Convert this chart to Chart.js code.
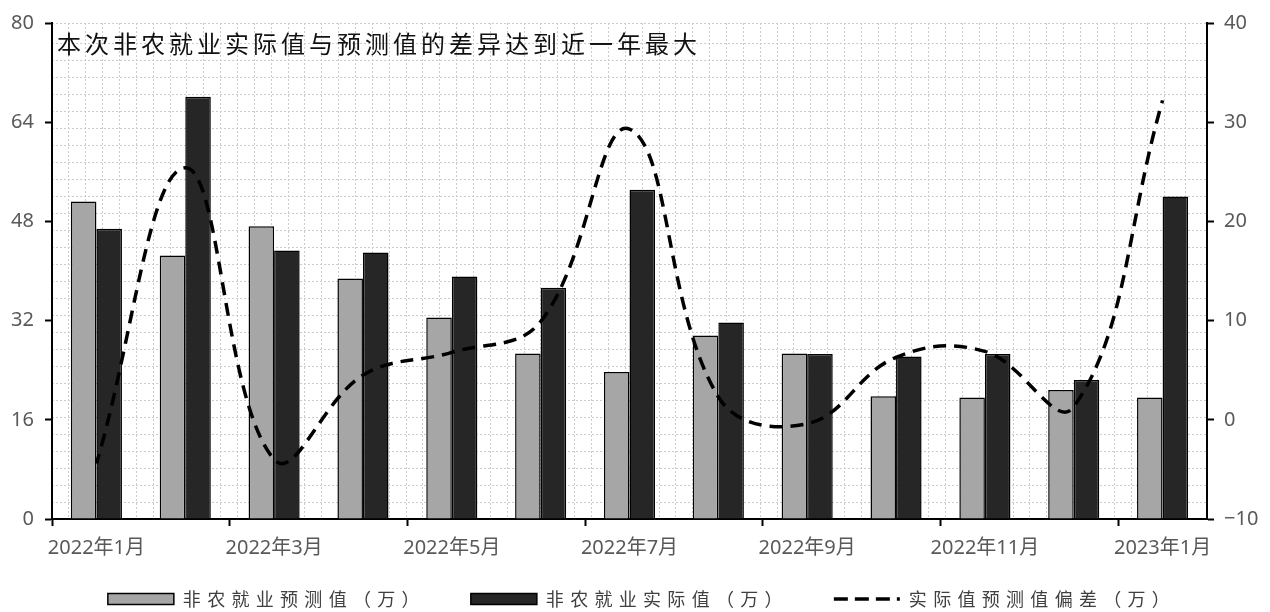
<!DOCTYPE html>
<html>
<head>
    <meta charset="utf-8">
    <title>非农就业实际值与预测值</title>
    <script src="https://cdn.jsdelivr.net/npm/chart.js"></script>
    <style>
        html, body { margin: 0; padding: 0; background: #fff; }
        #wrap { width: 1270px; height: 612px; }
    </style>
</head>
<body>
    <div id="wrap"><canvas id="nfpChart" width="1270" height="612"></canvas></div>

    <script>
        // monthly data, unit: 万
        const months = ['2022年1月', '2022年2月', '2022年3月', '2022年4月', '2022年5月', '2022年6月', '2022年7月',
                        '2022年8月', '2022年9月', '2022年10月', '2022年11月', '2022年12月', '2023年1月'];
        const forecast = [51.2, 42.5, 47.2, 38.8, 32.5, 26.7, 23.7, 29.6, 26.7, 19.8, 19.6, 20.8, 19.6];
        const actual = [46.8, 68.1, 43.3, 43.0, 39.1, 37.3, 53.1, 31.7, 26.6, 26.2, 26.6, 22.4, 52.0];
        const deviation = [-4.4, 25.4, -4.0, 4.5, 6.8, 9.9, 29.3, 2.3, -0.4, 6.3, 6.9, 1.3, 32.2];

        const leftTicks = [0, 16, 32, 48, 64, 80];
        const rightTicks = [-10, 0, 10, 20, 30, 40];

        const titleText = '本次非农就业实际值与预测值的差异达到近一年最大';
        const seriesNames = ['非农就业预测值（万）', '非农就业实际值（万）', '实际值预测值偏差（万）'];

        const tickColor = '#595959';
        const gridColor = '#cccccc';
        const sans = '"Noto Sans", "Noto Sans CJK SC", sans-serif';
        const cjk = '"Noto Sans CJK SC", sans-serif';

        Chart.defaults.font.family = sans;

        // headline written inside the plot area, top left
        const headline = {
            id: 'headline',
            afterDatasetsDraw(chart) {
                const { ctx, chartArea } = chart;
                ctx.save();
                ctx.letterSpacing = '4px';
                ctx.font = '24px ' + cjk;
                ctx.fillStyle = '#111';
                ctx.textBaseline = 'middle';
                ctx.fillText(titleText, chartArea.left + 5, chartArea.top + 21);
                ctx.restore();
            }
        };

        const fmtSigned = v => (v < 0 ? '\u2212' + Math.abs(v) : String(v));

        const chart = new Chart(document.getElementById('nfpChart'), {
            type: 'bar',
            data: {
                labels: months,
                datasets: [
                    {
                        label: seriesNames[2],
                        type: 'line',
                        data: deviation,
                        yAxisID: 'y1',
                        borderColor: '#000',
                        borderWidth: 3.5,
                        borderDash: [13, 8],
                        borderDashOffset: 3,
                        tension: 0.4,
                        pointRadius: 0,
                        fill: false,
                        order: 0
                    },
                    {
                        label: seriesNames[0],
                        data: forecast,
                        backgroundColor: '#a6a6a6',
                        borderColor: '#000',
                        borderWidth: 1.5,
                        order: 1
                    },
                    {
                        label: seriesNames[1],
                        data: actual,
                        backgroundColor: '#262626',
                        borderColor: '#000',
                        borderWidth: 1.5,
                        order: 1
                    }
                ]
            },
            options: {
                responsive: false,
                animation: false,
                datasets: {
                    bar: { categoryPercentage: 0.575, barPercentage: 1.0 }
                },
                // legend padding is large, so the bottom edge pulls it down a little
                layout: { padding: { top: 12, left: 0, right: 0, bottom: -6 } },
                plugins: {
                    tooltip: { enabled: false },
                    legend: {
                        position: 'bottom',
                        labels: {
                            font: { family: cjk, size: 18 },
                            color: '#404040',
                            usePointStyle: true,
                            pointStyleWidth: 66,
                            boxHeight: 11,
                            padding: 45,
                            // bars first, dashed line last
                            sort: (a, b) => (a.datasetIndex === 0) - (b.datasetIndex === 0) || a.datasetIndex - b.datasetIndex,
                            generateLabels(c) {
                                const items = Chart.defaults.plugins.legend.labels.generateLabels(c);
                                items.forEach(it => {
                                    it.pointStyle = it.datasetIndex === 0 ? 'line' : 'rect';
                                    if (it.datasetIndex === 0) {
                                        it.lineWidth = 3.5;
                                        it.lineDash = [14, 7];
                                    }
                                });
                                return items;
                            }
                        }
                    }
                },
                scales: {
                    x: {
                        type: 'category',
                        offset: true,
                        grid: {
                            offset: true,
                            drawOnChartArea: false,
                            tickLength: 7,
                            tickWidth: 2,
                            tickColor: ctx => (ctx.index % 2 === 0 ? '#000' : 'rgba(0,0,0,0)')
                        },
                        border: { color: '#000', width: 2 },
                        ticks: {
                            autoSkip: false,
                            maxRotation: 0,
                            padding: 10,
                            color: tickColor,
                            font: { size: 20 },
                            callback(v, i) { return i % 2 === 0 ? this.getLabelForValue(v) : ''; }
                        },
                        afterFit: s => {
                            s.height = 26;
                            // month labels hang below the short axis box; don't clip them
                            s._computeLabelArea = () => undefined;
                        }
                    },
                    y: {
                        position: 'left',
                        min: leftTicks[0],
                        max: leftTicks[leftTicks.length - 1],
                        afterBuildTicks: s => { s.ticks = leftTicks.map(v => ({ value: v })); },
                        grid: { drawOnChartArea: false, tickLength: 7, tickWidth: 2, tickColor: '#000' },
                        border: { color: '#000', width: 2 },
                        ticks: { padding: 11, color: tickColor, font: { size: 20 } },
                        afterFit: s => { s.width = 52; }
                    },
                    y1: {
                        position: 'right',
                        min: rightTicks[0],
                        max: rightTicks[rightTicks.length - 1],
                        afterBuildTicks: s => { s.ticks = rightTicks.map(v => ({ value: v })); },
                        grid: { drawOnChartArea: false, tickLength: 7, tickWidth: 2, tickColor: '#000' },
                        border: { color: '#000', width: 2 },
                        ticks: { padding: 10, color: tickColor, font: { size: 20 }, callback: fmtSigned },
                        afterFit: s => { s.width = 63; }
                    },
                    // dotted background lattice
                    gx: {
                        type: 'linear',
                        position: 'bottom',
                        min: 0,
                        max: 67.5,
                        ticks: { display: false, stepSize: 1 },
                        grid: { color: gridColor, lineWidth: 1, drawTicks: false },
                        border: { display: false, dash: [2, 2] },
                        afterFit: s => { s.height = 0; }
                    },
                    gy: {
                        type: 'linear',
                        position: 'left',
                        min: 0,
                        max: 29.2,
                        ticks: { display: false, stepSize: 1 },
                        grid: { color: gridColor, lineWidth: 1, drawTicks: false },
                        border: { display: false, dash: [2, 2] },
                        afterFit: s => { s.width = 0; }
                    }
                }
            },
            plugins: [headline]
        });

        // legend text is letter-spaced; the row sits a few px right of centre
        const legend = chart.legend;
        ['fit', 'draw'].forEach(name => {
            const base = legend[name];
            legend[name] = function () {
                const ctx = this.ctx;
                ctx.save();
                ctx.letterSpacing = '6.3px';
                if (name === 'draw') ctx.translate(7, 0);
                base.apply(this, arguments);
                ctx.restore();
            };
        });
        chart.update();
    </script>
</body>
</html>
